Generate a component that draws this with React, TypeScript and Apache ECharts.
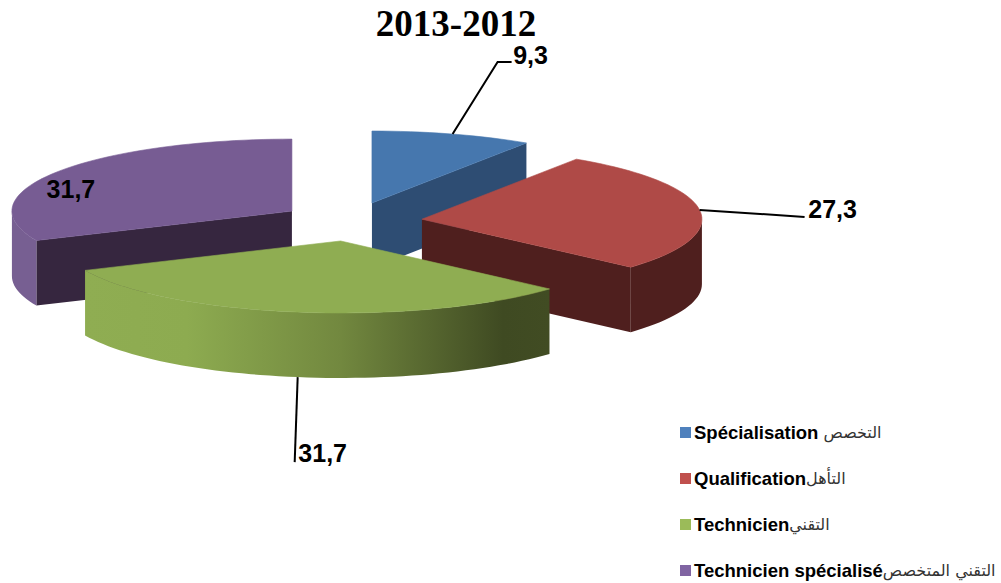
import React, { useEffect, useRef } from "react";
import * as echarts from "echarts";

const titleText = "2013-2012";
const latinNames = ["Spécialisation ", "Qualification", "Technicien", "Technicien spécialisé"];
const arabicNames = ["التخصص", "التأهل", "التقني", "التقني المتخصص"];
const values = [9.3, 27.3, 31.7, 31.7];
const legendColors = ["#4f81bd", "#c0504d", "#9bbb59", "#8064a2"];
const topColors = ["#4677ae", "#af4a47", "#8fad52", "#775c93"];
const faceColors = ["#2e4d73", "#4f1f1e", "#414c23", "#36263f"];
const drawOrder = [1, 3, 4, 2];

// Pie projection
const CX = 351.5, CY = 221.7, RX = 280, RY = 72, DEPTH = 65, EX = 71, EY = 19.5;
// Label placement relative to the slice's rim anchor
const labelDx = [78, 133, 25, 14];
const labelDy = [-79, -1, 76, 17];
const leaderElbow: ([number, number] | null)[] = [[45, -72], null, null, null];
const leaderEnd: ([number, number] | null)[] = [[59, -72], [105, 7], [-3, 85], null];

const names = latinNames.map((n, i) => n + arabicNames[i]);
const total = values.reduce((a, b) => a + b, 0);
const rad = (d: number) => (d * Math.PI) / 180;

function wallFill(i: number): any {
  if (i === 2) {
    return new echarts.graphic.LinearGradient(0, 0, 1, 0, [
      { offset: 0, color: "#8fad52" },
      { offset: 0.22, color: "#8dab50" },
      { offset: 0.55, color: "#72883f" },
      { offset: 0.9, color: "#3f4a22" },
      { offset: 1, color: "#414c23" },
    ]);
  }
  if (i === 3) return "#775f92";
  return faceColors[i];
}

function makeRenderItem(i: number) {
  return () => {
    const before = values.slice(0, i).reduce((a, b) => a + b, 0);
    const a0 = (before / total) * 360;
    const a1 = ((before + values[i]) / total) * 360;
    const mid = (a0 + a1) / 2;
    const ax = CX + EX * Math.sin(rad(mid));
    const ay = CY - EY * Math.cos(rad(mid));
    const pt = (a: number, dz = 0): number[] => [
      ax + RX * Math.sin(rad(a)),
      ay - RY * Math.cos(rad(a)) + dz,
    ];
    const arc = (s: number, e: number, dz = 0) => {
      const out: number[][] = [];
      const n = Math.max(2, Math.ceil((e - s) / 2));
      for (let k = 0; k <= n; k++) out.push(pt(s + ((e - s) * k) / n, dz));
      return out;
    };
    const children: any[] = [];
    const face = (a: number) => {
      const p = pt(a);
      children.push({
        type: "polygon",
        shape: { points: [[ax, ay], p, [p[0], p[1] + DEPTH], [ax, ay + DEPTH]] },
        style: { fill: faceColors[i] },
      });
    };
    if (a0 > 180 && a0 < 360) face(a0);
    if (a1 > 0 && a1 < 180) face(a1);
    const ws = Math.max(a0, 90), we = Math.min(a1, 270);
    if (ws < we) {
      children.push({
        type: "polygon",
        shape: { points: [...arc(ws, we), ...arc(ws, we, DEPTH).reverse()] },
        style: { fill: wallFill(i) },
      });
    }
    children.push({
      type: "polygon",
      shape: { points: [[ax, ay], ...arc(a0, a1)] },
      style: { fill: topColors[i], stroke: topColors[i], lineWidth: 0.6 },
    });
    const front = mid > 90 && mid < 270 ? DEPTH : 0;
    const anchor = pt(mid, front);
    if (leaderEnd[i]) {
      const pts = [anchor];
      if (leaderElbow[i]) pts.push([anchor[0] + leaderElbow[i]![0], anchor[1] + leaderElbow[i]![1]]);
      pts.push([anchor[0] + leaderEnd[i]![0], anchor[1] + leaderEnd[i]![1]]);
      children.push({
        type: "polyline",
        shape: { points: pts },
        style: { fill: "none", stroke: "#000", lineWidth: 2 },
      });
    }
    children.push({
      type: "text",
      z2: 50,
      style: {
        x: anchor[0] + labelDx[i],
        y: anchor[1] + labelDy[i],
        text: String(values[i]).replace(".", ","),
        fill: "#000",
        font: 'bold 25px "Liberation Sans"',
        align: "center",
        verticalAlign: "middle",
      },
    });
    return { type: "group", children };
  };
}

export default function App() {
  const ref = useRef<HTMLDivElement>(null);
  useEffect(() => {
    const chart = echarts.init(ref.current!, undefined, { renderer: "svg" });
    chart.setOption({
      animation: false,
      backgroundColor: "#fff",
      title: {
        text: titleText,
        left: 456,
        top: 0,
        padding: [0, 0, 0, 0],
        textAlign: "center",
        textStyle: {
          fontFamily: "Liberation Serif",
          fontWeight: "bold",
          fontSize: 37,
          lineHeight: 46,
          color: "#000",
        },
      },
      legend: {
        orient: "vertical",
        left: 675,
        top: 418,
        height: 300,
        itemWidth: 11,
        itemHeight: 11,
        itemGap: 27,
        icon: "rect",
        selectedMode: false,
        data: names,
        formatter: (name: string) => {
          const i = names.indexOf(name);
          return `{a|${latinNames[i]}}{b|${arabicNames[i]}}`;
        },
        textStyle: {
          rich: {
            a: {
              fontFamily: "Liberation Sans",
              fontWeight: "bold",
              fontSize: 18.5,
              color: "#000",
              lineHeight: 19,
              padding: [0, 0, 0, -2],
            },
            b: {
              fontFamily: "DejaVu Sans",
              fontSize: 16,
              color: "#333",
              lineHeight: 19,
            },
          },
        },
      },
      series: names.map((name, i) => ({
        type: "custom",
        name,
        coordinateSystem: "none",
        z: drawOrder[i] + 1,
        silent: true,
        itemStyle: { color: legendColors[i] },
        data: [{ value: values[i], name }],
        renderItem: makeRenderItem(i),
      })),
    });
    return () => chart.dispose();
  }, []);
  return (
    <div
      ref={ref}
      style={{ position: "absolute", left: 0, top: 0, width: 1001, height: 583 }}
    />
  );
}
